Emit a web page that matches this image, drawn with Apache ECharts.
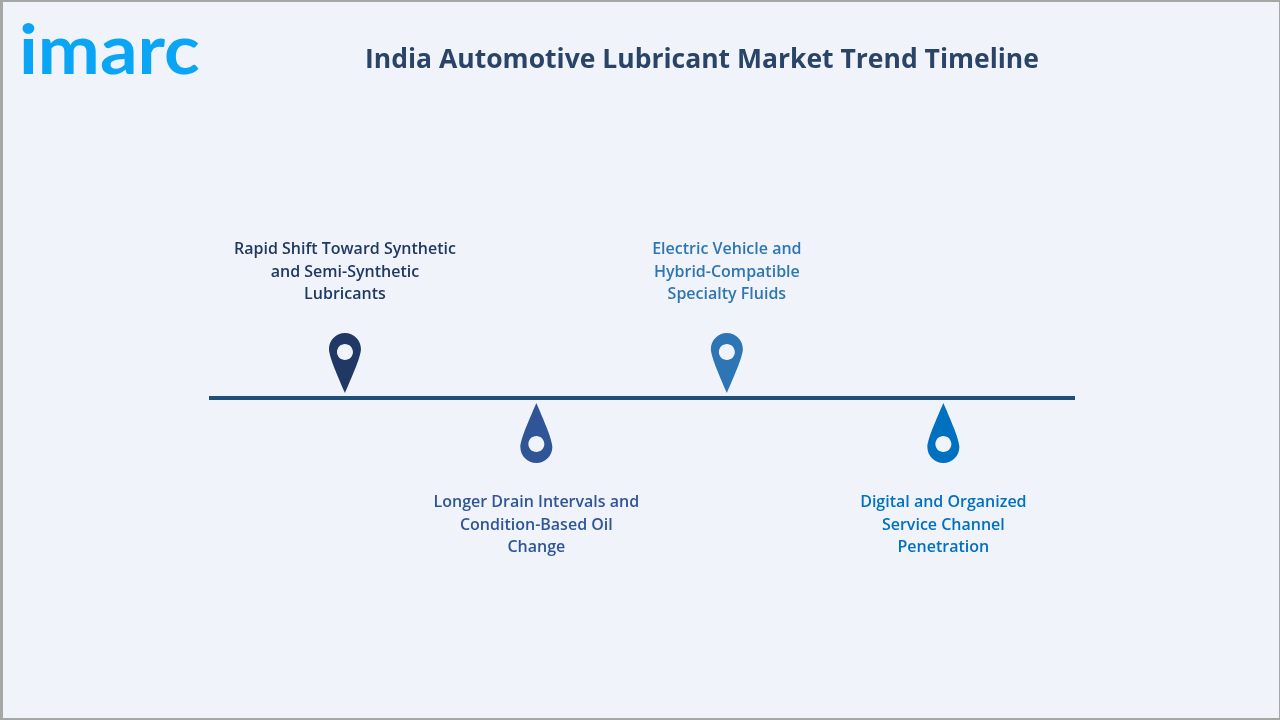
<!DOCTYPE html>
<html>
<head>
<meta charset="utf-8">
<title>India Automotive Lubricant Market Trend Timeline</title>
<style>
  html, body { margin: 0; padding: 0; background: #f0f4fa; }
  #main { width: 1280px; height: 720px; }
</style>
<script src="https://cdn.jsdelivr.net/npm/echarts@6/dist/echarts.min.js"></script>
</head>
<body>
<div id="main"></div>
<script>
// timeline data
var chartTitle = 'India Automotive Lubricant Market Trend Timeline';
var brandName = 'imarc';
var trends = [
  'Rapid Shift Toward Synthetic\nand Semi-Synthetic\nLubricants',
  'Longer Drain Intervals and\nCondition-Based Oil\nChange',
  'Electric Vehicle and\nHybrid-Compatible\nSpecialty Fluids',
  'Digital and Organized\nService Channel\nPenetration'
];
var trendPosition = [15.7, 37.8, 59.8, 84.8]; // along the line, 0-100
var trendSide = [1, -1, 1, -1];               // 1 above the line, -1 below

var trendColors = ['#1f3864', '#2f5597', '#2e75b6', '#0070c0'];
var lineColor = '#1f4e79';
var fontName = '"Open Sans", sans-serif';

// pin shapes, the hole is wound the other way so it stays empty
var pinUp = 'path://M16 0C7.2 0 0 7.2 0 16C0 24 10 46 16 60C22 46 32 24 32 16C32 7.2 24.8 0 16 0Z' +
  'M16 11C20.4 11 24 14.6 24 19C24 23.4 20.4 27 16 27C11.6 27 8 23.4 8 19C8 14.6 11.6 11 16 11Z';
var pinDown = 'path://M16 60C7.2 60 0 52.8 0 44C0 36 10 14 16 0C22 14 32 36 32 44C32 52.8 24.8 60 16 60Z' +
  'M16 33C11.6 33 8 36.6 8 41C8 45.4 11.6 49 16 49C20.4 49 24 45.4 24 41C24 36.6 20.4 33 16 33Z';

var points = trends.map(function (name, i) {
  var up = trendSide[i] > 0;
  return {
    name: name,
    value: [trendPosition[i], trendSide[i]],
    symbol: up ? pinUp : pinDown,
    itemStyle: { color: trendColors[i], opacity: 1 },
    label: {
      position: up ? 'top' : 'bottom',
      distance: up ? 27 : 28.5,
      color: trendColors[i],
      opacity: 1
    }
  };
});

var chart = echarts.init(document.getElementById('main'));
chart.setOption({
  backgroundColor: '#f0f4fa',
  animation: false,
  title: {
    text: chartTitle,
    left: 697,
    top: 42,
    textAlign: 'center',
    textStyle: { fontFamily: fontName, fontSize: 26.5, fontWeight: 700, color: '#2a4468' }
  },
  grid: { left: 209, width: 866, top: 363, height: 70 },
  xAxis: {
    type: 'value', min: 0, max: 100,
    axisLine: { show: true, onZero: true, lineStyle: { color: lineColor, width: 4, cap: 'butt' } },
    axisTick: { show: false }, axisLabel: { show: false }, splitLine: { show: false }
  },
  yAxis: { type: 'value', min: -1, max: 1, show: false },
  series: [{
    type: 'scatter',
    data: points,
    symbolSize: [32, 60],
    silent: true,
    label: {
      show: true,
      formatter: '{b}',
      align: 'center',
      fontFamily: fontName,
      fontSize: 16,
      fontWeight: 600,
      lineHeight: 22.5
    }
  }],
  graphic: [
    // outer frame
    { type: 'rect', silent: true, shape: { x: 1.5, y: 0.5, width: 1279, height: 719 },
      style: { fill: 'none', stroke: '#a6a6a6', lineWidth: 3 } },
    // logo
    { type: 'text', x: 19, y: 18, scaleX: 1.09, silent: true,
      style: { text: brandName, fontFamily: 'Lato, sans-serif', fontSize: 68, fontWeight: 700, fill: '#0aa5f5' } }
  ]
});
</script>
</body>
</html>
